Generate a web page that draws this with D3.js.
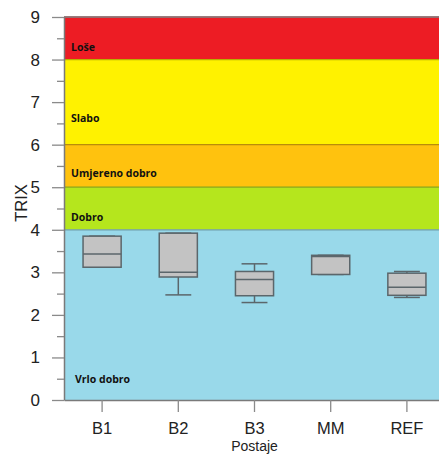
<!DOCTYPE html>
<html>
<head>
<meta charset="utf-8">
<script src="https://cdn.jsdelivr.net/npm/d3@7"></script>
<style>
  body { margin: 0; background: #fff; }
  svg { display: block; }
</style>
</head>
<body>
<script>
// stations
var stations = ['B1', 'B2', 'B3', 'MM', 'REF'];
// box stats per station
var whiskerLow = [3.12, 2.47, 2.29, 2.95, 2.41];
var q1 = [3.12, 2.89, 2.45, 2.95, 2.46];
var median = [3.43, 3.00, 2.83, 3.37, 2.65];
var q3 = [3.85, 3.92, 3.02, 3.40, 2.98];
var whiskerHigh = [3.85, 3.92, 3.20, 3.40, 3.02];

// TRIX classes
var classNames = ['Vrlo dobro', 'Dobro', 'Umjereno dobro', 'Slabo', 'Loše'];
var classFrom = [0, 4, 5, 6, 8];
var classTo = [4, 5, 6, 8, 9];
var classLabelAt = [0.39, 4.21, 5.25, 6.54, 8.19];
var classColors = ['#99d9ea', '#b5e61d', '#ffc20e', '#fff200', '#ed1c24'];

var yTicks = [0, 1, 2, 3, 4, 5, 6, 7, 8, 9];
var yMinor = [0.5, 1.5, 2.5, 3.5, 4.5, 5.5, 6.5, 7.5, 8.5];

const W = 439, H = 455;
const MARGIN = { top: 17, left: 64, right: -6, bottom: 55 };
var plotW = W - MARGIN.left - MARGIN.right;
var plotH = H - MARGIN.top - MARGIN.bottom;

var svg = d3.select('body').append('svg')
  .attr('width', W).attr('height', H);
var g = svg.append('g')
  .attr('transform', 'translate(' + MARGIN.left + ',' + MARGIN.top + ')');

var x = d3.scaleBand().domain(stations).range([0, plotW]);
var y = d3.scaleLinear().domain([0, 9]).range([plotH, 0]);

// class bands
g.selectAll('rect.band')
  .data(classNames)
  .enter().append('rect')
  .attr('class', 'band')
  .attr('x', 0)
  .attr('width', plotW)
  .attr('y', function(d, i){ return y(classTo[i]); })
  .attr('height', function(d, i){ return y(classFrom[i]) - y(classTo[i]); })
  .attr('fill', function(d, i){ return classColors[i]; });

// separators between bands
g.selectAll('line.sep')
  .data(classTo)
  .enter().append('line')
  .attr('x1', 0).attr('x2', plotW)
  .attr('y1', function(d){ return y(d); })
  .attr('y2', function(d){ return y(d); })
  .attr('stroke', function(d, i){ return d3.color(classColors[i]).darker(0.9); })
  .attr('stroke-width', 1.3);
g.append('line')
  .attr('x1', 0).attr('x2', plotW)
  .attr('y1', y(9)).attr('y2', y(9))
  .attr('stroke', '#8a8a8a').attr('stroke-width', 1.3);

// class labels
g.selectAll('text.cls')
  .data(classNames)
  .enter().append('text')
  .attr('class', 'cls')
  .attr('x', function(d, i){ return i === 0 ? 11 : 7; })
  .attr('y', function(d, i){ return y(classLabelAt[i]); })
  .style('font-family', '"Open Sans", sans-serif')
  .style('font-weight', 'bold')
  .style('font-size', '10.5px')
  .attr('fill', '#111')
  .text(function(d){ return d; });

// boxes
var stroke = '#5b666b';
var bw = x.bandwidth() * 0.5;
var cw = x.bandwidth() * 0.34;
var boxes = g.selectAll('g.box')
  .data(stations)
  .enter().append('g')
  .attr('class', 'box')
  .attr('transform', function(d){ return 'translate(' + (x(d) + x.bandwidth() / 2) + ',0)'; });

boxes.append('line')
  .attr('x1', 0).attr('x2', 0)
  .attr('y1', function(d, i){ return y(whiskerHigh[i]); })
  .attr('y2', function(d, i){ return y(whiskerLow[i]); })
  .attr('stroke', stroke).attr('stroke-width', 1.5);
boxes.append('line')
  .attr('x1', -cw / 2).attr('x2', cw / 2)
  .attr('y1', function(d, i){ return y(whiskerHigh[i]); })
  .attr('y2', function(d, i){ return y(whiskerHigh[i]); })
  .attr('stroke', stroke).attr('stroke-width', 1.5);
boxes.append('line')
  .attr('x1', -cw / 2).attr('x2', cw / 2)
  .attr('y1', function(d, i){ return y(whiskerLow[i]); })
  .attr('y2', function(d, i){ return y(whiskerLow[i]); })
  .attr('stroke', stroke).attr('stroke-width', 1.5);
boxes.append('rect')
  .attr('x', -bw / 2).attr('width', bw)
  .attr('y', function(d, i){ return y(q3[i]); })
  .attr('height', function(d, i){ return y(q1[i]) - y(q3[i]); })
  .attr('fill', '#c3c3c3')
  .attr('stroke', stroke).attr('stroke-width', 1.5);
boxes.append('line')
  .attr('x1', -bw / 2).attr('x2', bw / 2)
  .attr('y1', function(d, i){ return y(median[i]); })
  .attr('y2', function(d, i){ return y(median[i]); })
  .attr('stroke', stroke).attr('stroke-width', 1.5);

// Y axis
var yAxis = g.append('g')
  .call(d3.axisLeft(y).tickValues(yTicks).tickSize(12).tickPadding(12).tickSizeOuter(0));
g.append('g')
  .call(d3.axisLeft(y).tickValues(yMinor).tickSize(7).tickFormat('').tickSizeOuter(0))
  .select('.domain').remove();

// X axis
var xAxis = g.append('g')
  .attr('transform', 'translate(0,' + plotH + ')')
  .call(d3.axisBottom(x).tickSize(12).tickPadding(10).tickSizeOuter(0));

svg.selectAll('.tick line').attr('stroke', '#8a8a8a').attr('stroke-width', 1.3);
svg.selectAll('.domain').attr('stroke', '#7a7a7a').attr('stroke-width', 1.5);
yAxis.selectAll('.tick text')
  .style('font-family', '"Liberation Sans", Arial, sans-serif')
  .style('font-size', '17px')
  .attr('fill', '#222');
xAxis.selectAll('.tick text')
  .style('font-family', '"Liberation Sans", Arial, sans-serif')
  .style('font-size', '16.5px')
  .attr('fill', '#222');

// axis titles
svg.append('text')
  .attr('transform', 'translate(27,203) rotate(-90)')
  .attr('text-anchor', 'middle')
  .style('font-family', '"Liberation Sans", Arial, sans-serif')
  .style('font-size', '16.5px')
  .attr('fill', '#222')
  .text('TRIX');
svg.append('text')
  .attr('x', x('B3') + x.bandwidth() / 2 + MARGIN.left)
  .attr('y', 451)
  .attr('text-anchor', 'middle')
  .style('font-family', '"Liberation Sans", Arial, sans-serif')
  .style('font-size', '14px')
  .attr('fill', '#222')
  .text('Postaje');
</script>
</body>
</html>
